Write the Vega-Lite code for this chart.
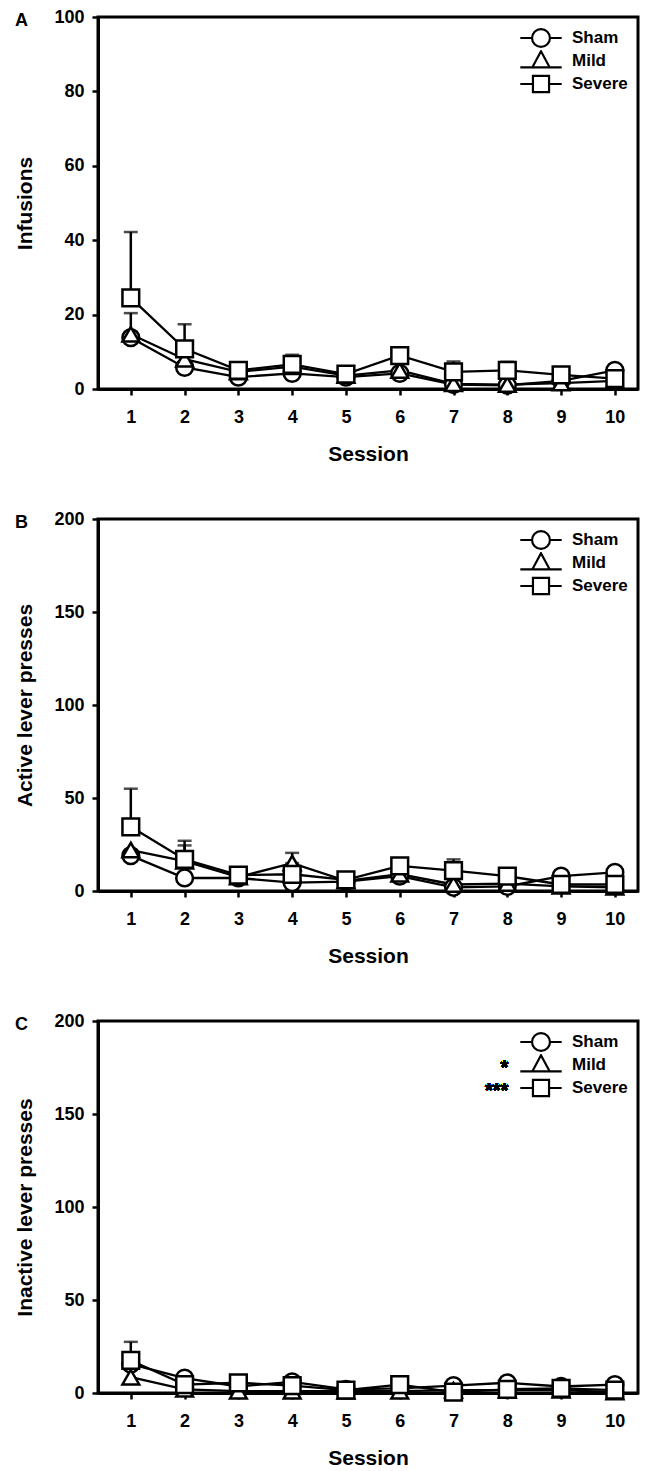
{
  "$schema": "https://vega.github.io/schema/vega-lite/v6.json",
  "background": "white",
  "padding": {"left": 13, "top": 6, "right": 5, "bottom": 0},
  "spacing": 42,
  "config": {
    "font": "Liberation Sans",
    "view": {"stroke": "black", "strokeWidth": 3},
    "axis": {"domainColor": "black", "domainWidth": 3, "tickColor": "black", "tickWidth": 2.5, "tickSize": 6, "labelFont": "Liberation Sans", "labelFontWeight": "bold", "labelFontSize": 18, "labelColor": "black", "titleFont": "Liberation Sans", "titleFontWeight": "bold", "titleFontSize": 21, "titleColor": "black", "grid": false, "labelFlush": false, "labelOverlap": false, "labelBound": false},
    "axisX": {"labelPadding": 13, "titlePadding": 17},
    "axisY": {"labelPadding": 8, "titlePadding": 18},
    "legend": {"orient": "top-right", "offset": 10, "padding": 0, "labelFont": "Liberation Sans", "labelFontSize": 17, "labelFontWeight": "bold", "labelColor": "black", "symbolSize": 529, "symbolStrokeWidth": 2.2, "symbolStrokeColor": "black", "symbolFillColor": "white", "symbolOpacity": 1, "symbolOffset": 10, "rowPadding": 1, "clipHeight": 22, "labelOffset": 18},
    "title": {"font": "Liberation Sans", "fontSize": 18, "fontWeight": "bold", "color": "black", "anchor": "start", "frame": "bounds", "offset": 0, "dy": 26}
  },
  "datasets": {
    "d": [
      {"panel": "A", "session": 1, "group": "Sham", "value": 13.8},
      {"panel": "A", "session": 2, "group": "Sham", "value": 5.8},
      {"panel": "A", "session": 3, "group": "Sham", "value": 3.2},
      {"panel": "A", "session": 4, "group": "Sham", "value": 4.2},
      {"panel": "A", "session": 5, "group": "Sham", "value": 3.2},
      {"panel": "A", "session": 6, "group": "Sham", "value": 4.2},
      {"panel": "A", "session": 7, "group": "Sham", "value": 1.2},
      {"panel": "A", "session": 8, "group": "Sham", "value": 1.0},
      {"panel": "A", "session": 9, "group": "Sham", "value": 2.2},
      {"panel": "A", "session": 10, "group": "Sham", "value": 5.0},
      {"panel": "A", "session": 1, "group": "Mild", "value": 14.7, "hi": 20.4},
      {"panel": "A", "session": 2, "group": "Mild", "value": 8.0},
      {"panel": "A", "session": 3, "group": "Mild", "value": 4.6},
      {"panel": "A", "session": 4, "group": "Mild", "value": 6.0},
      {"panel": "A", "session": 5, "group": "Mild", "value": 3.6},
      {"panel": "A", "session": 6, "group": "Mild", "value": 5.0},
      {"panel": "A", "session": 7, "group": "Mild", "value": 1.4},
      {"panel": "A", "session": 8, "group": "Mild", "value": 1.2},
      {"panel": "A", "session": 9, "group": "Mild", "value": 1.6},
      {"panel": "A", "session": 10, "group": "Mild", "value": 2.2},
      {"panel": "A", "session": 1, "group": "Severe", "value": 24.5, "hi": 42.2},
      {"panel": "A", "session": 2, "group": "Severe", "value": 10.8, "hi": 17.4},
      {"panel": "A", "session": 3, "group": "Severe", "value": 5.0},
      {"panel": "A", "session": 4, "group": "Severe", "value": 6.6, "hi": 9.2},
      {"panel": "A", "session": 5, "group": "Severe", "value": 4.0},
      {"panel": "A", "session": 6, "group": "Severe", "value": 9.0},
      {"panel": "A", "session": 7, "group": "Severe", "value": 4.6, "hi": 7.4},
      {"panel": "A", "session": 8, "group": "Severe", "value": 5.0, "hi": 7.3},
      {"panel": "A", "session": 9, "group": "Severe", "value": 3.8},
      {"panel": "A", "session": 10, "group": "Severe", "value": 2.8},
      {"panel": "B", "session": 1, "group": "Sham", "value": 19},
      {"panel": "B", "session": 2, "group": "Sham", "value": 7},
      {"panel": "B", "session": 3, "group": "Sham", "value": 7},
      {"panel": "B", "session": 4, "group": "Sham", "value": 4.5},
      {"panel": "B", "session": 5, "group": "Sham", "value": 5},
      {"panel": "B", "session": 6, "group": "Sham", "value": 8},
      {"panel": "B", "session": 7, "group": "Sham", "value": 2},
      {"panel": "B", "session": 8, "group": "Sham", "value": 2.5},
      {"panel": "B", "session": 9, "group": "Sham", "value": 8},
      {"panel": "B", "session": 10, "group": "Sham", "value": 10},
      {"panel": "B", "session": 1, "group": "Mild", "value": 22},
      {"panel": "B", "session": 2, "group": "Mild", "value": 16, "hi": 24.5},
      {"panel": "B", "session": 3, "group": "Mild", "value": 7.5},
      {"panel": "B", "session": 4, "group": "Mild", "value": 15, "hi": 20.5},
      {"panel": "B", "session": 5, "group": "Mild", "value": 5.5},
      {"panel": "B", "session": 6, "group": "Mild", "value": 9},
      {"panel": "B", "session": 7, "group": "Mild", "value": 3.5},
      {"panel": "B", "session": 8, "group": "Mild", "value": 4},
      {"panel": "B", "session": 9, "group": "Mild", "value": 2.5},
      {"panel": "B", "session": 10, "group": "Mild", "value": 2},
      {"panel": "B", "session": 1, "group": "Severe", "value": 34.5, "hi": 55},
      {"panel": "B", "session": 2, "group": "Severe", "value": 17, "hi": 27},
      {"panel": "B", "session": 3, "group": "Severe", "value": 8.5, "hi": 12.5},
      {"panel": "B", "session": 4, "group": "Severe", "value": 9},
      {"panel": "B", "session": 5, "group": "Severe", "value": 6},
      {"panel": "B", "session": 6, "group": "Severe", "value": 13.5},
      {"panel": "B", "session": 7, "group": "Severe", "value": 11, "hi": 17},
      {"panel": "B", "session": 8, "group": "Severe", "value": 8},
      {"panel": "B", "session": 9, "group": "Severe", "value": 3.5},
      {"panel": "B", "session": 10, "group": "Severe", "value": 3.5},
      {"panel": "C", "session": 1, "group": "Sham", "value": 15.5},
      {"panel": "C", "session": 2, "group": "Sham", "value": 8},
      {"panel": "C", "session": 3, "group": "Sham", "value": 3.5},
      {"panel": "C", "session": 4, "group": "Sham", "value": 6},
      {"panel": "C", "session": 5, "group": "Sham", "value": 2},
      {"panel": "C", "session": 6, "group": "Sham", "value": 2.5},
      {"panel": "C", "session": 7, "group": "Sham", "value": 4},
      {"panel": "C", "session": 8, "group": "Sham", "value": 5.5},
      {"panel": "C", "session": 9, "group": "Sham", "value": 3.5},
      {"panel": "C", "session": 10, "group": "Sham", "value": 4.5},
      {"panel": "C", "session": 1, "group": "Mild", "value": 8.5},
      {"panel": "C", "session": 2, "group": "Mild", "value": 2},
      {"panel": "C", "session": 3, "group": "Mild", "value": 1},
      {"panel": "C", "session": 4, "group": "Mild", "value": 1},
      {"panel": "C", "session": 5, "group": "Mild", "value": 1},
      {"panel": "C", "session": 6, "group": "Mild", "value": 1},
      {"panel": "C", "session": 7, "group": "Mild", "value": 1.5},
      {"panel": "C", "session": 8, "group": "Mild", "value": 1.5},
      {"panel": "C", "session": 9, "group": "Mild", "value": 1.5},
      {"panel": "C", "session": 10, "group": "Mild", "value": 0.5},
      {"panel": "C", "session": 1, "group": "Severe", "value": 17.5, "hi": 27.5},
      {"panel": "C", "session": 2, "group": "Severe", "value": 4.5},
      {"panel": "C", "session": 3, "group": "Severe", "value": 5.5},
      {"panel": "C", "session": 4, "group": "Severe", "value": 4},
      {"panel": "C", "session": 5, "group": "Severe", "value": 1.5},
      {"panel": "C", "session": 6, "group": "Severe", "value": 4.5},
      {"panel": "C", "session": 7, "group": "Severe", "value": 0.5},
      {"panel": "C", "session": 8, "group": "Severe", "value": 2},
      {"panel": "C", "session": 9, "group": "Severe", "value": 2.5},
      {"panel": "C", "session": 10, "group": "Severe", "value": 1.5}
    ]
  },
  "vconcat": [
    {
      "width": 540, "height": 372,
      "title": {"text": "A"},
      "data": {"name": "d"},
      "transform": [{"filter": "datum.panel === 'A'"}],
      "resolve": {"scale": {"shape": "independent"}},
      "encoding": {
        "x": {"field": "session", "type": "quantitative", "scale": {"domain": [0.39, 10.43], "nice": false, "zero": false}, "axis": {"values": [1, 2, 3, 4, 5, 6, 7, 8, 9, 10], "title": "Session"}},
        "y": {"field": "value", "type": "quantitative", "scale": {"domain": [0, 100], "nice": false}, "axis": {"values": [0, 20, 40, 60, 80, 100], "title": "Infusions"}}
      },
      "layer": [
        {"mark": {"type": "line", "color": "black", "strokeWidth": 2.3}, "encoding": {"detail": {"field": "group"}}},
        {"transform": [{"filter": "isValid(datum.hi)"}], "mark": {"type": "errorbar", "ticks": {"size": 14, "thickness": 2.5, "color": "black"}, "rule": {"strokeWidth": 2.5, "color": "black"}}, "encoding": {"y2": {"field": "hi"}}},
        {"mark": {"type": "point", "filled": true, "fill": "white", "stroke": "black", "strokeWidth": 2.5, "size": 280, "opacity": 1}, "encoding": {"shape": {"field": "group", "scale": {"domain": ["Sham", "Mild", "Severe"], "range": ["circle", "triangle-up", "square"]}, "legend": null}}},
        {"transform": [{"filter": "datum.session < 0"}], "mark": {"type": "point", "filled": false, "color": "black", "strokeWidth": 2.2, "size": 529}, "encoding": {"shape": {"field": "group", "scale": {"domain": ["Sham", "Mild", "Severe"], "range": ["M-1.8,0H-0.78M0.78,0H1.8M-0.78,0A0.78,0.78,0,1,1,0.78,0A0.78,0.78,0,1,1,-0.78,0Z", "M-1.8,0.55H1.8M0,-0.85L0.75,0.55L-0.75,0.55Z", "M-1.8,0H-0.7M0.7,0H1.8M-0.7,-0.7H0.7V0.7H-0.7Z"]}, "legend": {"title": null, "symbolOpacity": 1, "encode": {"symbols": {"update": {"stroke": {"value": "black"}, "fill": {"value": "white"}, "strokeWidth": {"value": 2.2}, "opacity": {"value": 1}}}}}}}}
      ]
    },
    {
      "width": 540, "height": 372,
      "title": {"text": "B"},
      "data": {"name": "d"},
      "transform": [{"filter": "datum.panel === 'B'"}],
      "resolve": {"scale": {"shape": "independent"}},
      "encoding": {
        "x": {"field": "session", "type": "quantitative", "scale": {"domain": [0.39, 10.43], "nice": false, "zero": false}, "axis": {"values": [1, 2, 3, 4, 5, 6, 7, 8, 9, 10], "title": "Session"}},
        "y": {"field": "value", "type": "quantitative", "scale": {"domain": [0, 200], "nice": false}, "axis": {"values": [0, 50, 100, 150, 200], "title": "Active lever presses"}}
      },
      "layer": [
        {"mark": {"type": "line", "color": "black", "strokeWidth": 2.3}, "encoding": {"detail": {"field": "group"}}},
        {"transform": [{"filter": "isValid(datum.hi)"}], "mark": {"type": "errorbar", "ticks": {"size": 14, "thickness": 2.5, "color": "black"}, "rule": {"strokeWidth": 2.5, "color": "black"}}, "encoding": {"y2": {"field": "hi"}}},
        {"mark": {"type": "point", "filled": true, "fill": "white", "stroke": "black", "strokeWidth": 2.5, "size": 280, "opacity": 1}, "encoding": {"shape": {"field": "group", "scale": {"domain": ["Sham", "Mild", "Severe"], "range": ["circle", "triangle-up", "square"]}, "legend": null}}},
        {"transform": [{"filter": "datum.session < 0"}], "mark": {"type": "point", "filled": false, "color": "black", "strokeWidth": 2.2, "size": 529}, "encoding": {"shape": {"field": "group", "scale": {"domain": ["Sham", "Mild", "Severe"], "range": ["M-1.8,0H-0.78M0.78,0H1.8M-0.78,0A0.78,0.78,0,1,1,0.78,0A0.78,0.78,0,1,1,-0.78,0Z", "M-1.8,0.55H1.8M0,-0.85L0.75,0.55L-0.75,0.55Z", "M-1.8,0H-0.7M0.7,0H1.8M-0.7,-0.7H0.7V0.7H-0.7Z"]}, "legend": {"title": null, "symbolOpacity": 1, "encode": {"symbols": {"update": {"stroke": {"value": "black"}, "fill": {"value": "white"}, "strokeWidth": {"value": 2.2}, "opacity": {"value": 1}}}}}}}}
      ]
    },
    {
      "width": 540, "height": 372,
      "title": {"text": "C"},
      "data": {"name": "d"},
      "transform": [{"filter": "datum.panel === 'C'"}],
      "resolve": {"scale": {"shape": "independent"}},
      "encoding": {
        "x": {"field": "session", "type": "quantitative", "scale": {"domain": [0.39, 10.43], "nice": false, "zero": false}, "axis": {"values": [1, 2, 3, 4, 5, 6, 7, 8, 9, 10], "title": "Session"}},
        "y": {"field": "value", "type": "quantitative", "scale": {"domain": [0, 200], "nice": false}, "axis": {"values": [0, 50, 100, 150, 200], "title": "Inactive lever presses"}}
      },
      "layer": [
        {"mark": {"type": "line", "color": "black", "strokeWidth": 2.3}, "encoding": {"detail": {"field": "group"}}},
        {"transform": [{"filter": "isValid(datum.hi)"}], "mark": {"type": "errorbar", "ticks": {"size": 14, "thickness": 2.5, "color": "black"}, "rule": {"strokeWidth": 2.5, "color": "black"}}, "encoding": {"y2": {"field": "hi"}}},
        {"mark": {"type": "point", "filled": true, "fill": "white", "stroke": "black", "strokeWidth": 2.5, "size": 280, "opacity": 1}, "encoding": {"shape": {"field": "group", "scale": {"domain": ["Sham", "Mild", "Severe"], "range": ["circle", "triangle-up", "square"]}, "legend": null}}},
        {"transform": [{"filter": "datum.session < 0"}], "mark": {"type": "point", "filled": false, "color": "black", "strokeWidth": 2.2, "size": 529}, "encoding": {"shape": {"field": "group", "scale": {"domain": ["Sham", "Mild", "Severe"], "range": ["M-1.8,0H-0.78M0.78,0H1.8M-0.78,0A0.78,0.78,0,1,1,0.78,0A0.78,0.78,0,1,1,-0.78,0Z", "M-1.8,0.55H1.8M0,-0.85L0.75,0.55L-0.75,0.55Z", "M-1.8,0H-0.7M0.7,0H1.8M-0.7,-0.7H0.7V0.7H-0.7Z"]}, "legend": {"title": null, "symbolOpacity": 1, "encode": {"symbols": {"update": {"stroke": {"value": "black"}, "fill": {"value": "white"}, "strokeWidth": {"value": 2.2}, "opacity": {"value": 1}}}}}}}},
        {"mark": {"type": "text", "text": "*", "font": "Liberation Sans", "fontSize": 20, "fontWeight": "bold", "color": "black", "fill": "black", "align": "right", "baseline": "middle", "dy": 3}, "encoding": {"x": {"datum": 8.02}, "y": {"datum": 176.3}}},
        {"mark": {"type": "text", "text": "***", "font": "Liberation Sans", "fontSize": 20, "fontWeight": "bold", "color": "black", "fill": "black", "align": "right", "baseline": "middle", "dy": 3}, "encoding": {"x": {"datum": 8.02}, "y": {"datum": 164}}}
      ]
    }
  ]
}
